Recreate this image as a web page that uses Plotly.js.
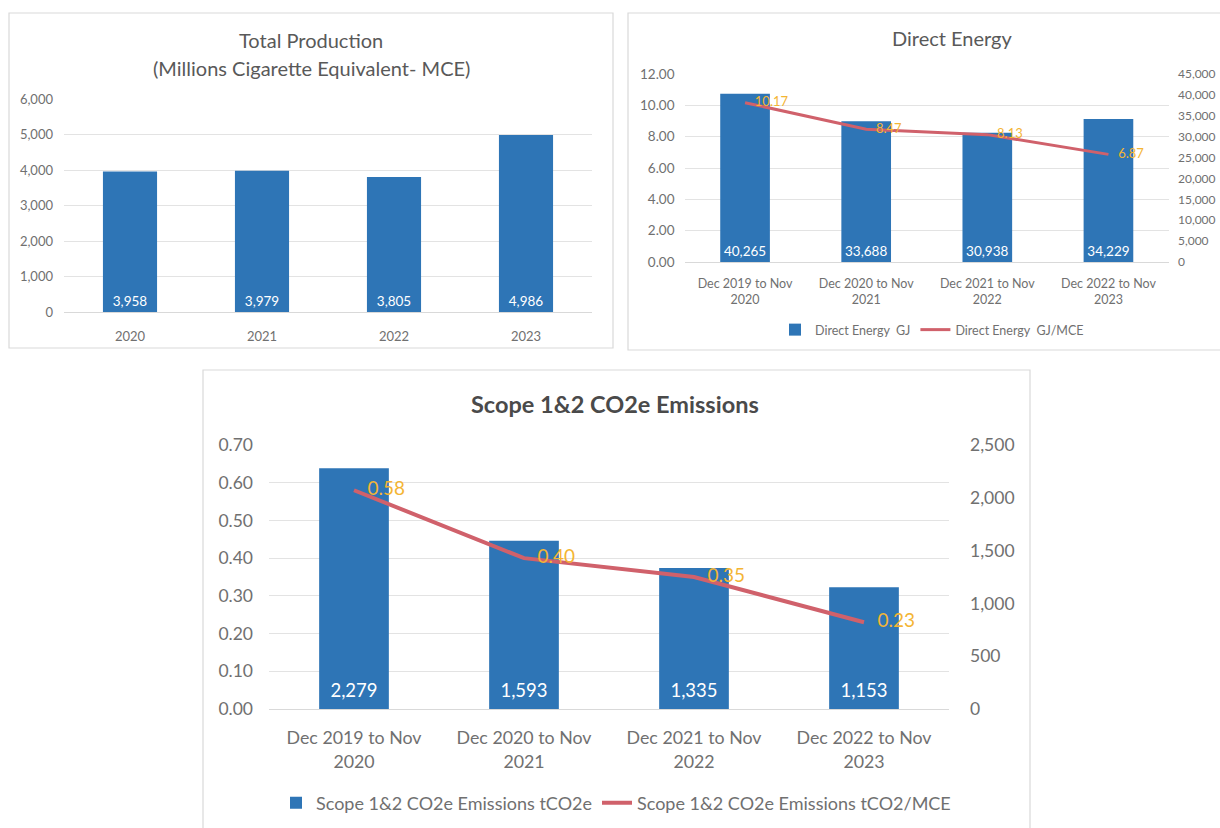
<!DOCTYPE html>
<html>
<head>
<meta charset="utf-8">
<script src="https://cdn.plot.ly/plotly-3.0.1.min.js"></script>
<style>
html,body{margin:0;padding:0;background:#ffffff;}
#chart{width:1220px;height:828px;}
</style>
</head>
<body>
<div id="chart"></div>
<script>
// ---- data ----
const years = ['2020', '2021', '2022', '2023'];
const production = [3958, 3979, 3805, 4986];

const periods = ['Dec 2019 to Nov<br>2020', 'Dec 2020 to Nov<br>2021', 'Dec 2021 to Nov<br>2022', 'Dec 2022 to Nov<br>2023'];
const energyGJ = [40265, 33688, 30938, 34229];
const energyGJperMCE = [10.17, 8.47, 8.13, 6.87];

const emissionsT = [2279, 1593, 1335, 1153];
const emissionsPerMCE = [0.58, 0.40, 0.35, 0.23];

// ---- style ----
const W = 1220, H = 828;
const px = v => v / W;
const py = v => 1 - v / H;
const FONT = 'Lato, "Open Sans", sans-serif';
const BLUE = '#2E75B6';
const RED = '#D0616B';
const GOLD = '#F4B534';
const TICK = '#707070';
const GRID = '#E3E3E3';
const fmt = v => v.toLocaleString('en-US');
// big label over a small spacer line, lifting it a little off the bar base
const lifted = (s, size) => '<span style="font-size:' + size + 'px">' + s + '</span><br>&nbsp;';

const traces = [
  {
    type: 'bar', x: years, y: production, xaxis: 'x', yaxis: 'y',
    marker: {color: BLUE}, showlegend: false,
    text: production.map(fmt), textposition: 'inside', insidetextanchor: 'start',
    textangle: 0, textfont: {color: '#ffffff', size: 13.5, family: FONT}
  },
  {
    type: 'bar', x: periods, y: energyGJ, xaxis: 'x2', yaxis: 'y2',
    name: 'Direct Energy  GJ', legend: 'legend2',
    marker: {color: BLUE},
    text: energyGJ.map(fmt), textposition: 'inside', insidetextanchor: 'start',
    textangle: 0, textfont: {color: '#ffffff', size: 13.5, family: FONT}
  },
  {
    type: 'scatter', mode: 'lines+markers+text', x: periods, y: energyGJperMCE, xaxis: 'x2', yaxis: 'y3',
    name: 'Direct Energy  GJ/MCE', legend: 'legend2',
    line: {color: RED, width: 3},
    marker: {size: 14, color: 'rgba(0,0,0,0)'},
    text: energyGJperMCE.map(v => v.toFixed(2)), textposition: 'middle right',
    textfont: {color: GOLD, size: 13, family: FONT}, cliponaxis: false
  },
  {
    type: 'bar', x: periods, y: emissionsT, xaxis: 'x3', yaxis: 'y4',
    name: 'Scope 1&2 CO2e Emissions tCO2e', legend: 'legend3',
    marker: {color: BLUE},
    text: emissionsT.map(v => lifted(fmt(v), 18.5)), textposition: 'inside', insidetextanchor: 'start',
    textangle: 0, textfont: {color: '#ffffff', size: 6, family: FONT}
  },
  {
    type: 'scatter', mode: 'lines+markers+text', x: periods, y: emissionsPerMCE, xaxis: 'x3', yaxis: 'y5',
    name: 'Scope 1&2 CO2e Emissions tCO2/MCE', legend: 'legend3',
    line: {color: RED, width: 4},
    marker: {size: 20, color: 'rgba(0,0,0,0)'},
    text: emissionsPerMCE.map(v => v.toFixed(2)), textposition: 'middle right',
    textfont: {color: GOLD, size: 19, family: FONT}, cliponaxis: false
  }
];

function xax(domain, anchor, size, standoff) {
  return {
    domain: domain, anchor: anchor, type: 'category',
    showline: true, linecolor: '#D9D9D9', linewidth: 1,
    showgrid: false, zeroline: false, ticks: '',
    tickfont: {family: FONT, size: size, color: TICK},
    ticklabelstandoff: standoff, fixedrange: true
  };
}
function yax(domain, anchor, range, dtick, tformat, size, side, standoff, grid, overlaying) {
  const a = {
    domain: domain, anchor: anchor, range: range, dtick: dtick, tick0: 0,
    tickformat: tformat, side: side, showline: false, zeroline: false,
    showgrid: grid, gridcolor: GRID, gridwidth: 1, ticks: '',
    tickfont: {family: FONT, size: size, color: TICK},
    ticklabelstandoff: standoff, fixedrange: true
  };
  if (overlaying) a.overlaying = overlaying;
  return a;
}

const d1x = [px(64), px(592)], d1y = [py(312), py(99)];
const d2x = [px(684.5), px(1169)], d2y = [py(262), py(74)];
const d3x = [px(269), px(949)], d3y = [py(709), py(445)];

const layout = {
  width: W, height: H,
  margin: {l: 0, r: 0, t: 0, b: 0},
  paper_bgcolor: '#ffffff', plot_bgcolor: 'rgba(0,0,0,0)',
  font: {family: FONT, color: TICK},
  showlegend: true, hovermode: false,
  bargap: 0.59,
  xaxis: xax(d1x, 'y', 13, 12),
  yaxis: yax(d1y, 'x', [0, 6000], 1000, ',', 13, 'left', 10, true),
  xaxis2: xax(d2x, 'y2', 12.5, 10),
  yaxis2: yax(d2y, 'x2', [0, 45000], 5000, ',', 12, 'right', 8, false),
  yaxis3: yax(d2y, 'x2', [0, 12], 2, '.2f', 13.5, 'left', 9, true, 'y2'),
  xaxis3: xax(d3x, 'y4', 17.8, 13),
  yaxis4: yax(d3y, 'x3', [0, 2500], 500, ',', 17.5, 'right', 20, false),
  yaxis5: yax(d3y, 'x3', [0, 0.7], 0.1, '.2f', 17.5, 'left', 15, true, 'y4'),
  legend2: {
    x: px(932), y: py(330), xanchor: 'center', yanchor: 'middle',
    orientation: 'h', font: {family: FONT, size: 12.5, color: TICK},
    bgcolor: 'rgba(0,0,0,0)', itemwidth: 30
  },
  legend3: {
    x: px(616), y: py(803), xanchor: 'center', yanchor: 'middle',
    orientation: 'h', font: {family: FONT, size: 18, color: TICK},
    bgcolor: 'rgba(0,0,0,0)', itemwidth: 30
  },
  annotations: [
    {xref: 'paper', yref: 'paper', x: px(311), y: py(40), text: 'Total Production',
     showarrow: false, xanchor: 'center', yanchor: 'middle',
     font: {family: FONT, size: 20, color: '#595959'}},
    {xref: 'paper', yref: 'paper', x: px(311), y: py(68), text: '(Millions Cigarette Equivalent- MCE)',
     showarrow: false, xanchor: 'center', yanchor: 'middle',
     font: {family: FONT, size: 20, color: '#595959'}},
    {xref: 'paper', yref: 'paper', x: px(952), y: py(38), text: 'Direct Energy',
     showarrow: false, xanchor: 'center', yanchor: 'middle',
     font: {family: FONT, size: 20, color: '#595959'}},
    {xref: 'paper', yref: 'paper', x: px(615), y: py(404), text: '<b>Scope 1&2 CO2e Emissions</b>',
     showarrow: false, xanchor: 'center', yanchor: 'middle',
     font: {family: FONT, size: 23.5, color: '#4A4A4A'}}
  ],
  shapes: [
    {type: 'rect', xref: 'paper', yref: 'paper', x0: px(9), x1: px(613), y0: py(13), y1: py(348),
     line: {color: '#D9D9D9', width: 1.2}, layer: 'below'},
    {type: 'rect', xref: 'paper', yref: 'paper', x0: px(628), x1: px(1226), y0: py(13), y1: py(350),
     line: {color: '#D9D9D9', width: 1.2}, layer: 'below'},
    {type: 'rect', xref: 'paper', yref: 'paper', x0: px(203), x1: px(1030), y0: py(370), y1: py(836),
     line: {color: '#D9D9D9', width: 1.2}, layer: 'below'}
  ]
};

Plotly.newPlot('chart', traces, layout, {displayModeBar: false, staticPlot: true});
</script>
</body>
</html>
